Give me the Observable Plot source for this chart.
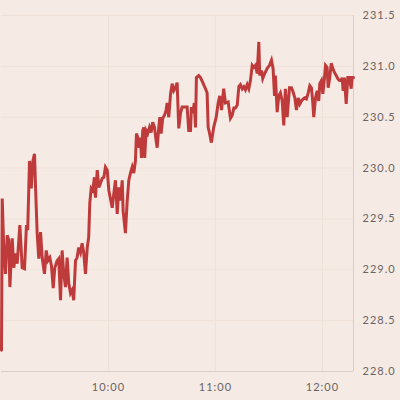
<!DOCTYPE html>
<html><head><meta charset="utf-8">
<script src="https://cdn.jsdelivr.net/npm/d3@7"></script>
<script src="https://cdn.jsdelivr.net/npm/@observablehq/plot@0.6"></script>
<style>html,body{margin:0;padding:0;background:#f5eae4;overflow:hidden}</style>
</head><body><div id="chart"></div>
<script>
// minutes after 09:00
const minutes = [0,0.4,1.3,2.2,3.2,4.1,4.7,6.0,6.9,7.8,8.8,10.3,11.6,12.9,14.0,14.7,15.7,16.7,17.6,18.5,19.1,20.0,20.9,21.9,22.8,24.1,25.1,26.0,27.1,28.0,29.0,29.9,31.2,32.1,33.1,34.0,34.9,35.9,36.8,37.7,38.7,39.6,40.5,41.5,42.4,43.3,44.3,45.2,46.1,47.1,48.1,48.9,49.5,50.3,51.2,52.1,52.7,53.7,54.6,55.5,56.5,57.4,58.3,59.3,60.2,62.1,63.0,63.9,64.9,65.8,66.7,67.7,68.2,69.5,70.5,71.4,72.3,73.3,74.2,75.1,75.7,76.4,77.2,77.9,78.5,79.2,79.8,80.3,81.1,82.0,83.0,83.9,84.8,85.8,86.7,87.3,88.2,88.8,89.5,90.4,91.4,92.3,92.9,93.8,94.8,95.7,96.6,97.6,98.5,99.4,100.4,101.3,102.2,103.2,104.1,105.0,106.0,106.5,107.3,108.1,108.8,109.3,110.6,111.6,112.9,114.4,115.3,115.9,116.6,117.7,119.0,120.4,121.5,122.4,123.4,124.6,125.6,127.1,128.4,129.4,130.3,131.2,132.2,133.1,134.0,135.0,135.9,136.8,137.8,138.7,139.6,140.6,141.5,142.4,143.4,144.3,144.8,145.8,146.5,147.6,149.0,150.3,151.4,152.3,153.1,153.6,154.6,155.5,156.4,157.4,158.3,159.2,160.2,161.5,162.6,163.3,164.5,165.4,166.4,167.3,168.2,169.2,170.1,171.0,172.0,172.9,173.8,174.5,175.1,176.1,177.0,177.9,178.5,179.4,180.2,181.1,181.7,182.6,183.2,184.1,184.9,185.8,186.7,187.7,188.6,189.5,190.5,191.0,191.6,192.3,193.3,194.2,195.1,196.1,196.6,197.4];
const prices = [228.21,229.70,229.19,228.96,229.34,229.29,228.83,229.31,229.02,229.16,229.06,229.44,229.02,229.01,229.44,229.39,230.07,229.80,230.07,230.14,229.81,229.36,229.11,229.37,229.12,228.96,229.19,229.09,229.12,229.04,228.82,229.02,229.09,229.11,228.70,229.19,228.96,228.83,229.12,228.87,228.77,228.80,228.70,229.09,229.12,229.22,229.17,229.26,229.17,228.96,229.22,229.32,229.65,229.80,229.78,229.91,229.71,229.98,229.81,229.85,229.90,229.91,230.01,229.98,229.78,229.61,229.75,229.88,229.55,229.81,229.68,229.88,229.58,229.36,229.68,229.88,229.95,230.01,229.95,230.07,230.34,230.30,230.20,230.30,230.10,230.37,230.40,230.10,230.37,230.34,230.40,230.35,230.45,230.40,230.27,230.20,230.40,230.50,230.34,230.49,230.52,230.57,230.64,230.50,230.73,230.83,230.76,230.79,230.84,230.39,230.54,230.60,230.60,230.60,230.60,230.37,230.37,230.60,230.54,230.64,230.40,230.89,230.91,230.89,230.84,230.78,230.74,230.40,230.35,230.25,230.40,230.50,230.64,230.71,230.57,230.78,230.64,230.65,230.49,230.52,230.59,230.59,230.62,230.80,230.82,230.78,230.80,230.77,230.82,230.78,230.86,231.01,230.99,231.01,230.93,231.24,230.91,230.96,230.88,230.93,230.98,231.01,231.06,230.98,230.71,230.91,230.55,230.71,230.74,230.66,230.42,230.78,230.50,230.79,230.79,230.76,230.69,230.57,230.69,230.63,230.66,230.68,230.69,230.68,230.74,230.81,230.79,230.66,230.50,230.69,230.76,230.66,230.83,230.86,230.73,230.88,231.01,230.99,230.79,230.89,231.03,230.98,230.94,230.91,230.88,230.86,230.86,230.89,230.76,230.89,230.63,230.89,230.89,230.78,230.89,230.89];
const yTicks = [228.0,228.5,229.0,229.5,230.0,230.5,231.0,231.5];
const xTickHours = [10,11,12];

const base = new Date(2024,0,2,9,0,0);
const toDate = m => new Date(base.getTime() + m*60000);
const data = minutes.map((m,i)=>({time: toDate(m), price: prices[i]}));
const xStart = toDate(minutes[0]);
const xEnd = toDate(minutes[minutes.length-1]);
const xTicks = xTickHours.map(h => new Date(2024,0,2,h,0,0));

const chart = Plot.plot({
  width: 400, height: 400,
  marginLeft: 1, marginRight: 47, marginTop: 15, marginBottom: 29,
  style: {background: "#f5eae4", fontFamily: "Lato, sans-serif", fontSize: "11px", color: "#6b6462", letterSpacing: "1px"},
  x: {type: "time", domain: [xStart, xEnd]},
  y: {domain: [228, 231.5]},
  marks: [
    Plot.gridY(yTicks, {stroke: "#efe1d8", strokeOpacity: 1}),
    Plot.gridX(xTicks, {stroke: "#efe1d8", strokeOpacity: 1}),
    Plot.ruleY([228], {stroke: "#d8cdc7"}),
    Plot.ruleX([xEnd], {stroke: "#d8cdc7"}),
    Plot.axisY(yTicks, {anchor: "right", tickSize: 0, tickPadding: 9, tickFormat: d => d.toFixed(1), label: null, textAnchor: "start", fill: "#6b6462"}),
    Plot.axisX(xTicks, {anchor: "bottom", tickSize: 0, tickPadding: 12, tickFormat: d3.timeFormat("%H:%M"), label: null, fill: "#6b6462"}),
    Plot.line(data, {x: "time", y: "price", stroke: "#bf3b3b", strokeWidth: 3, strokeLinejoin: "miter", strokeMiterlimit: 4})
  ]
});
document.getElementById("chart").appendChild(chart);
</script>
</body></html>
